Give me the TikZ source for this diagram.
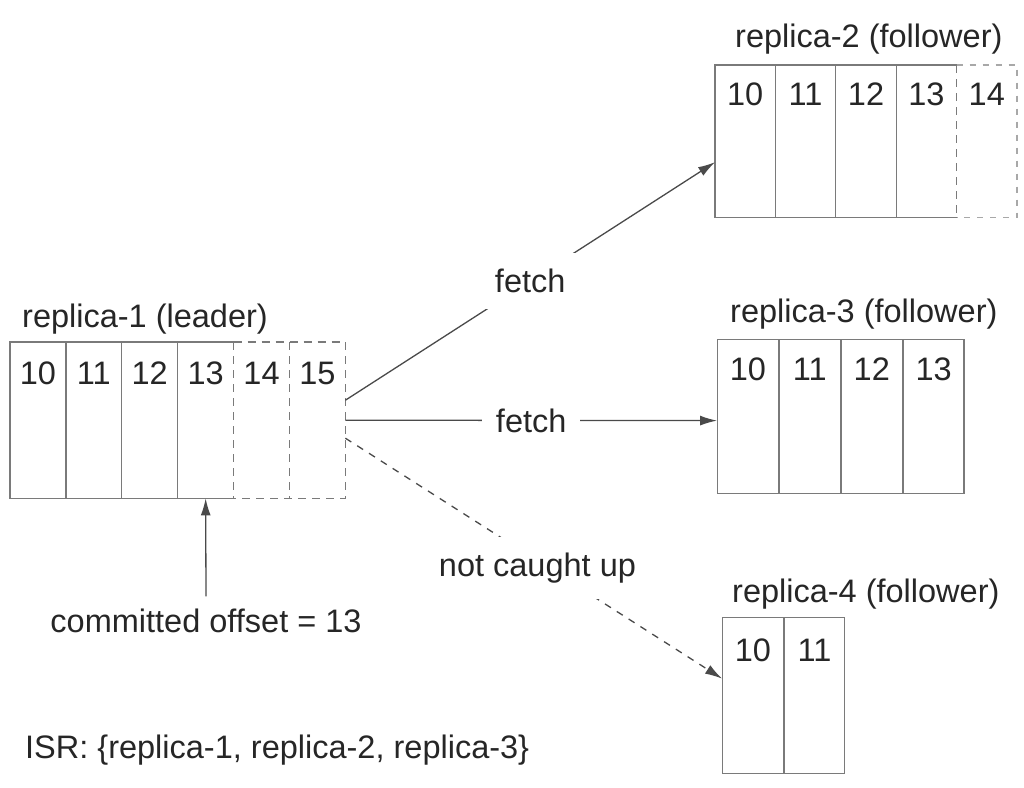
\documentclass[tikz,border=0pt]{standalone}
\usepackage{fontspec}
\setmainfont{Liberation Sans}
\usetikzlibrary{arrows.meta}
\definecolor{txt}{HTML}{262626}
\definecolor{boxc}{HTML}{7A7A7A}
\definecolor{lightbox}{HTML}{A8A8A8}
\definecolor{arr}{HTML}{4A4A4A}
\tikzset{
  every node/.style={font=\fontsize{32.5}{38}\selectfont, text=txt},
  cellA/.style={rectangle, anchor=north west, inner sep=0pt, minimum width=55.5pt, text height=42pt, text depth=114pt},
  cellB/.style={rectangle, anchor=north west, inner sep=0pt, minimum width=60pt, text height=40pt, text depth=112pt},
  cellC/.style={rectangle, anchor=north west, inner sep=0pt, minimum width=60.7pt, text height=41pt, text depth=113pt},
  cellD/.style={rectangle, anchor=north west, inner sep=0pt, minimum width=60.5pt, text height=44pt, text depth=112pt},
  boxline/.style={draw=boxc, line width=1.2pt},
  dashline/.style={draw=boxc, line width=1.2pt, dash pattern=on 8pt off 6pt},
  lightdash/.style={draw=lightbox, line width=1.1pt, dash pattern=on 6pt off 7pt},
  title/.style={anchor=base west, inner sep=0pt},
  conn/.style={draw=arr, line width=1.3pt, -{Latex[length=17pt,width=10pt]}},
  dconn/.style={conn, dash pattern=on 7pt off 7pt},
  lbl/.style={fill=white, inner xsep=14pt, inner ysep=16pt}
}
\begin{document}
\begin{tikzpicture}[x=1pt,y=-1pt]
\useasboundingbox[fill=white] (0,0) rectangle (1024,787);

% replica-1 (leader)
\node[title] (t1) at (22,327) {replica-1 (leader)};
\node[cellA] (r1c10) at (10,342) {10};
\node[cellA] (r1c11) at (r1c10.north east) {11};
\node[cellA] (r1c12) at (r1c11.north east) {12};
\node[cellA] (r1c13) at (r1c12.north east) {13};
\node[cellA] (r1c14) at (r1c13.north east) {14};
\node[cellA] (r1c15) at (r1c14.north east) {15};
\draw[boxline] (r1c13.north east) -- (r1c10.north west) -- (r1c10.south west) -- (r1c13.south east);
\foreach \c in {10,11,12} \draw[boxline] (r1c\c.north east) -- (r1c\c.south east);
\draw[dashline] (r1c13.north east) -- (r1c15.north east) -- (r1c15.south east) -- (r1c13.south east);
\draw[dashline] (r1c13.north east) -- (r1c13.south east);
\draw[dashline] (r1c14.north east) -- (r1c14.south east);

% replica-2 (follower)
\node[title] (t2) at (735,47) {replica-2 (follower)};
\node[cellB] (r2c10) at (715,65) {10};
\node[cellB] (r2c11) at (r2c10.north east) {11};
\node[cellB] (r2c12) at (r2c11.north east) {12};
\node[cellB] (r2c13) at (r2c12.north east) {13};
\node[cellB] (r2c14) at (r2c13.north east) {14};
\draw[boxline] (r2c13.north east) -- (r2c10.north west) -- (r2c10.south west) -- (r2c13.south east);
\foreach \c in {10,11,12} \draw[boxline] (r2c\c.north east) -- (r2c\c.south east);
\draw[lightdash] (r2c13.north east) -- (r2c14.north east) -- (r2c14.south east) -- (r2c13.south east);
\draw[dashline] (r2c13.north east) -- (r2c13.south east);

% replica-3 (follower)
\node[title] (t3) at (730,322) {replica-3 (follower)};
\node[cellC, boxline] (r3c10) at (717,339) {10};
\node[cellC, boxline] (r3c11) at (r3c10.north east) {11};
\node[cellC, boxline] (r3c12) at (r3c11.north east) {12};
\node[cellC, boxline] (r3c13) at (r3c12.north east) {13};

% replica-4 (follower)
\node[title] (t4) at (732,602) {replica-4 (follower)};
\node[cellD, boxline] (r4c10) at (722,617) {10};
\node[cellD, boxline] (r4c11) at (r4c10.north east) {11};

% connectors
\draw[conn] ([yshift=20pt]r1c15.east) -- node[lbl] (f1) {fetch} ([yshift=-21pt]r2c10.west);
\draw[conn] (r1c15.east) -- node[lbl] (f2) {fetch} ([yshift=-4pt]r3c10.west);
\draw[dconn] ([yshift=-18pt]r1c15.east) -- node[lbl, pos=0.51, yshift=-7pt] (nc) {not caught up} ([yshift=17pt]r4c10.west);

% committed offset
\node[anchor=base, inner xsep=0pt, inner ysep=12pt] (commit) at (206,632) {committed offset = 13};
\draw[conn] (commit.north) -- (r1c13.south);

% ISR
\node[title] (isr) at (25,758) {ISR: \{replica-1, replica-2, replica-3\}};
\end{tikzpicture}
\end{document}
